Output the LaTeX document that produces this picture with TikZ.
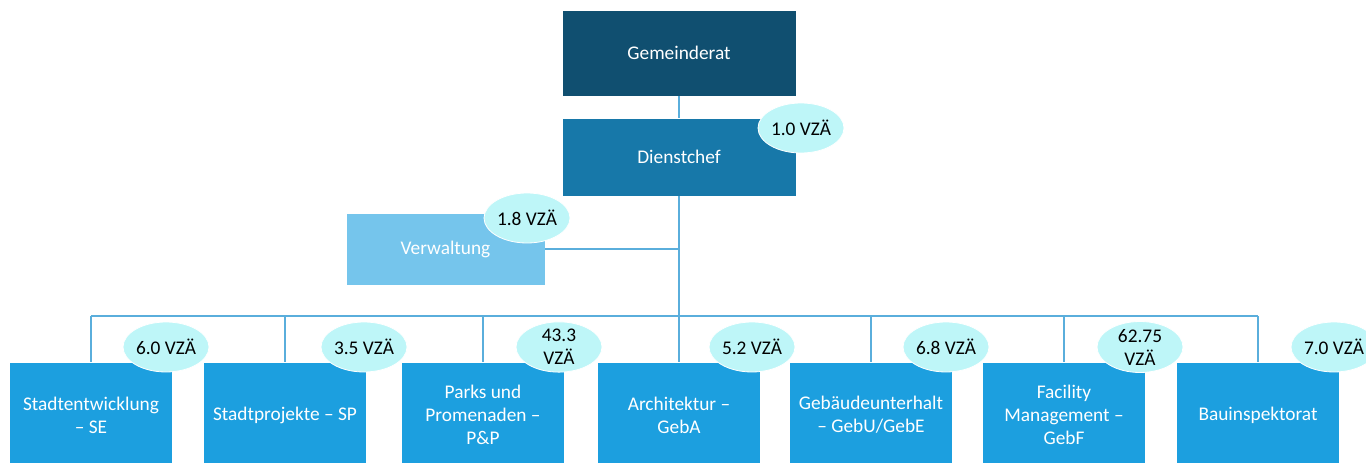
\documentclass[tikz,border=0pt]{standalone}
\usepackage{fontspec}
\setmainfont{Carlito}
\usetikzlibrary{shapes.geometric}
\definecolor{cGR}{HTML}{104F70}
\definecolor{cDC}{HTML}{1778A9}
\definecolor{cVW}{HTML}{75C5EC}
\definecolor{cBX}{HTML}{1C9FDF}
\definecolor{cEL}{HTML}{BEF6F8}
\definecolor{cLN}{HTML}{5AAEDC}
\tikzset{
  box/.style={rectangle, draw=white, line width=0.5pt, inner sep=0pt, text=white, align=center,
    font=\fontsize{14.5}{17.25}\selectfont},
  unit/.style={box, fill=cBX, minimum width=163*0.75pt, minimum height=106*0.75pt},
  vza/.style={ellipse, fill=cEL, draw=white, line width=0.6pt, inner sep=0pt, align=center,
    minimum width=86*0.75pt, minimum height=50*0.75pt, font=\fontsize{14.5}{17.25}\selectfont},
  conn/.style={draw=cLN, line width=1.1pt}
}
\begin{document}
\begin{tikzpicture}[x=0.75pt,y=-0.75pt]
\useasboundingbox (0,0) rectangle (1366,463);
\clip (0,0) rectangle (1366,463);
% boxes
\node[box, fill=cGR, minimum width=234*0.75pt, minimum height=86*0.75pt] (g) at (679,53) {Gemeinderat};
\node[box, fill=cDC, minimum width=234*0.75pt, minimum height=78*0.75pt] (d) at (679,157) {Dienstchef};
\node[box, fill=cVW, minimum width=199*0.75pt, minimum height=72*0.75pt] (v) at (445.5,249) {Verwaltung};
\node[unit] (b1) at (91,415) {Stadtentwicklung\\– SE};
\node[unit] (b2) at (285,415) {Stadtprojekte – SP};
\node[unit] (b3) at (483,415) {Parks und\\Promenaden –\\P\&P};
\node[unit] (b4) at (679,415) {Architektur –\\GebA};
\node[unit] (b5) at (871,415) {Gebäudeunterhalt\\– GebU/GebE};
\node[unit] (b6) at (1064,415) {Facility\\Management –\\GebF};
\node[unit] (b7) at (1258,415) {Bauinspektorat};
% connectors
\coordinate (bus) at (679,316);
\draw[conn] (g.south) -- (d.north);
\draw[conn] (d.south) -- (bus);
\draw[conn] (v.east) -- (v.east -| bus);
\draw[conn] (b1.north |- bus) -- (b7.north |- bus);
\foreach \b in {b1,b2,b3,b4,b5,b6,b7}{
  \draw[conn] (\b.north) -- (\b.north |- bus);
}
% FTE labels
\node[vza] (e0) at (801,128) {1.0 VZÄ};
\node[vza] (ev) at (527,218) {1.8 VZÄ};
\node[vza] (e1) at (166,347) {6.0 VZÄ};
\node[vza] (e2) at (364,347) {3.5 VZÄ};
\node[vza] (e3) at (559,347) {43.3\\VZÄ};
\node[vza] (e4) at (752,347) {5.2 VZÄ};
\node[vza] (e5) at (946,347) {6.8 VZÄ};
\node[vza] (e6) at (1140,347) {62.75\\VZÄ};
\node[vza] (e7) at (1334,347) {7.0 VZÄ};
\end{tikzpicture}
\end{document}
